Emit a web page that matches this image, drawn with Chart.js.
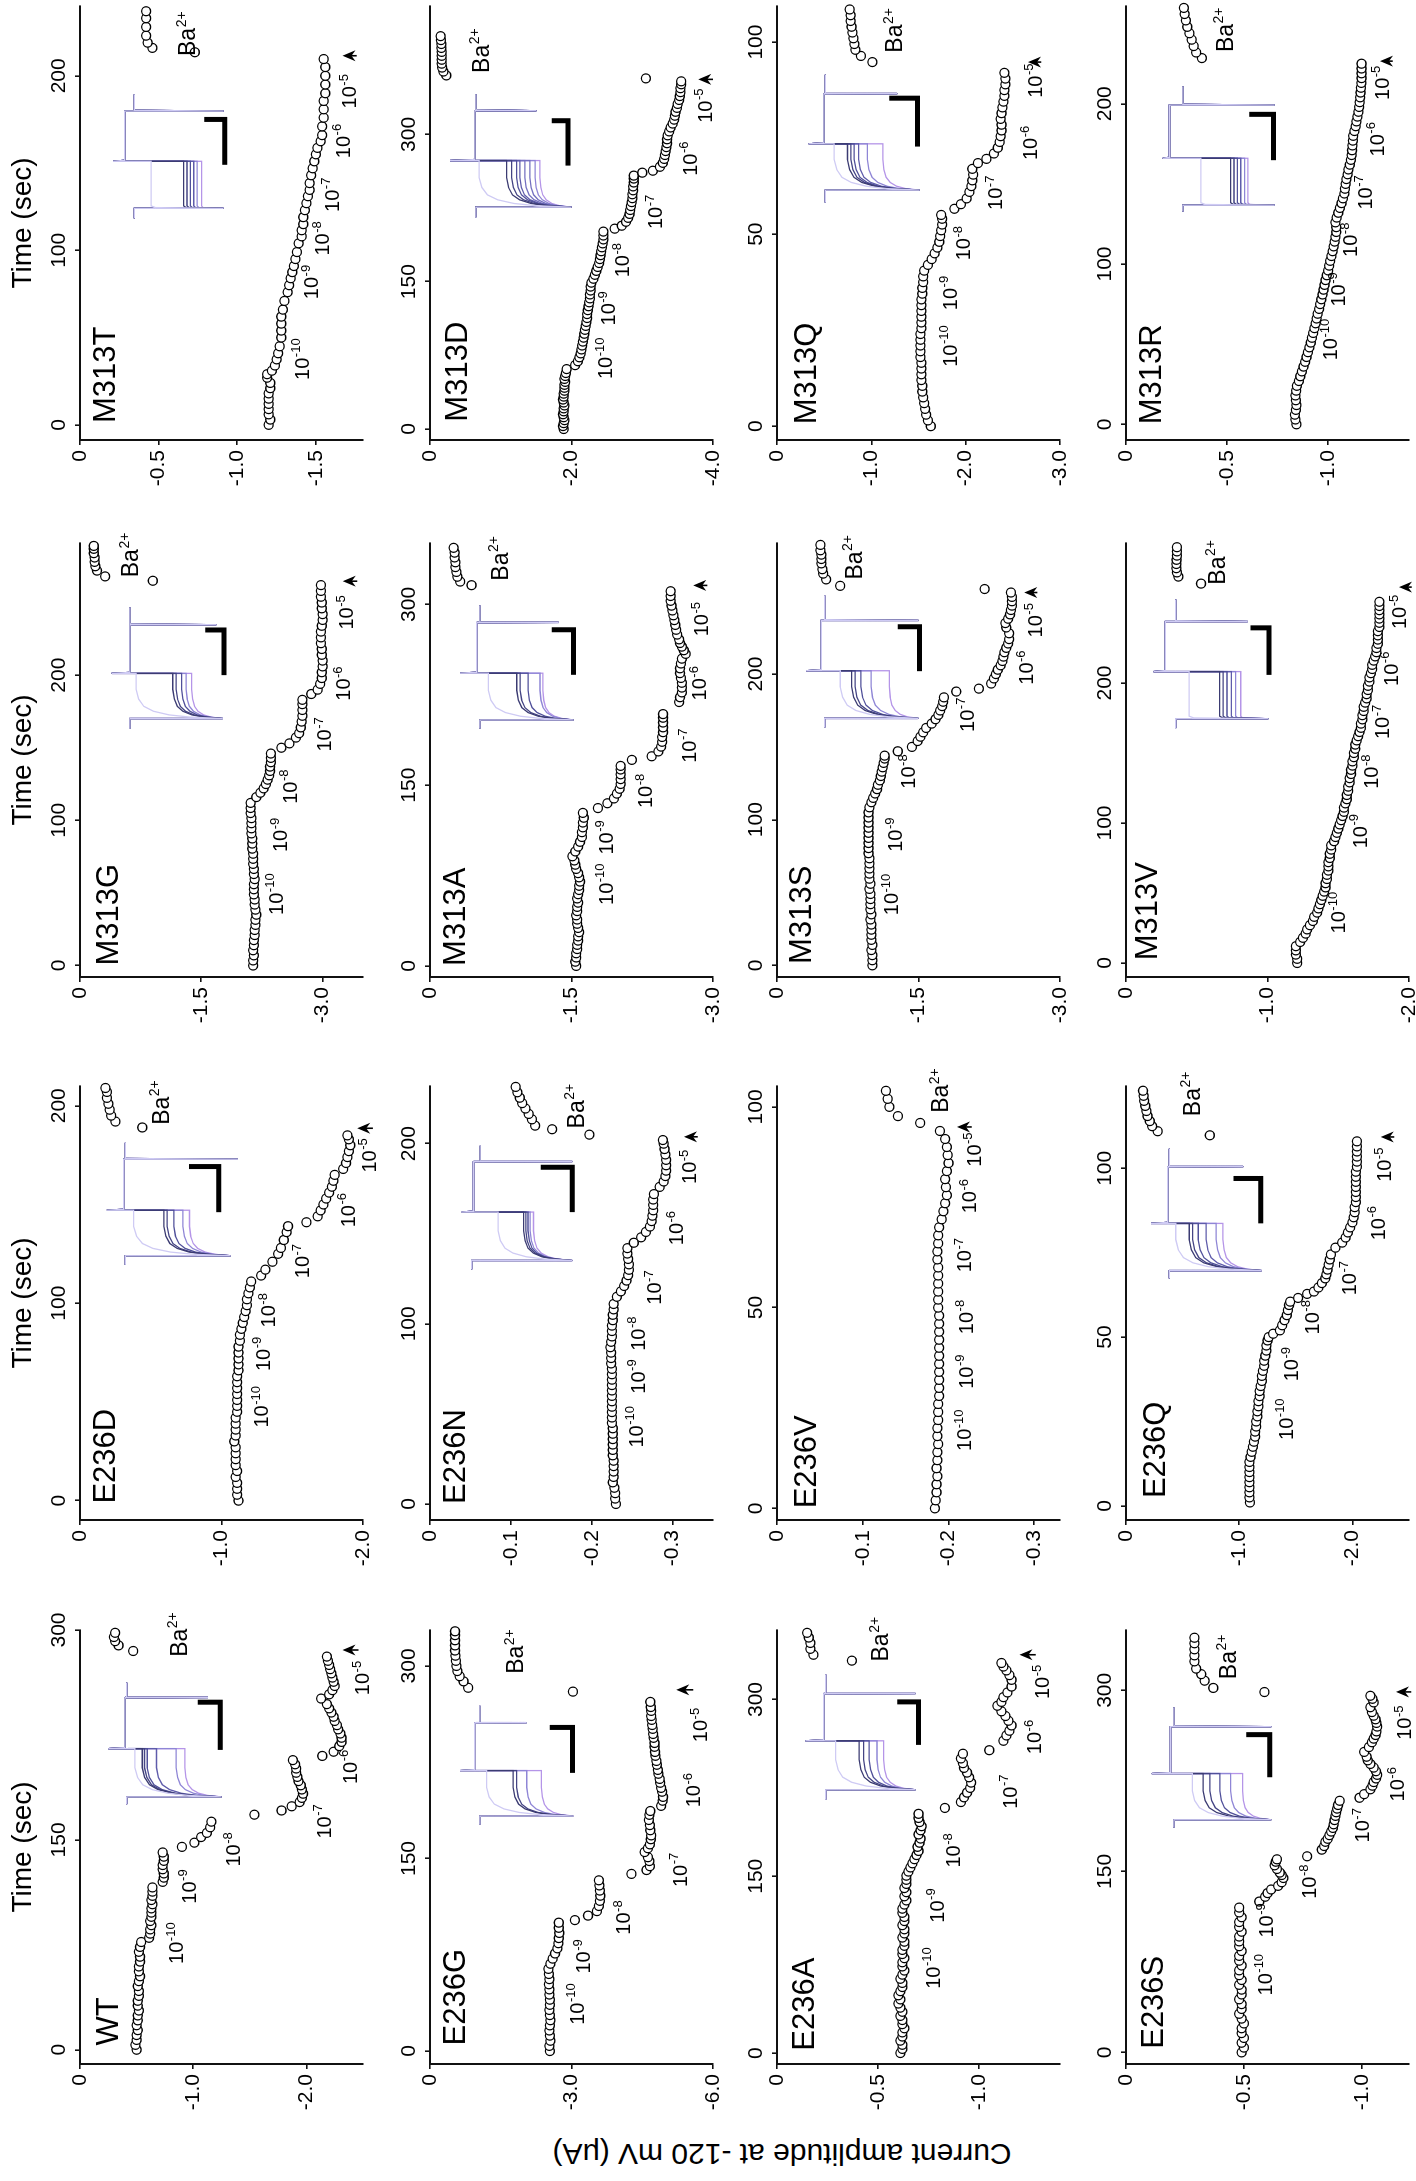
<!DOCTYPE html>
<html>
<head>
<meta charset="utf-8">
<script src="https://cdn.jsdelivr.net/npm/chart.js@4.4.1/dist/chart.umd.min.js"></script>
<style>
  html, body { margin:0; padding:0; background:#fff; width:1416px; height:2181px; overflow:hidden; }
  /* the figure is laid out upright (2181 x 1416) and turned a quarter turn to the left */
  #fig { position:absolute; left:0; top:0; width:2181px; height:1416px; background:#fff;
         transform-origin:0 0; transform:translate(0px, 2181px) rotate(-90deg); }
  #fig canvas { position:absolute; }
  #ylab { position:absolute; left:-270px; top:762px; width:600px; height:40px; line-height:40px;
          text-align:center; font:30px 'Liberation Sans', Arial, sans-serif; color:#000;
          transform:rotate(-90deg); white-space:nowrap; }
</style>
</head>
<body>
<div id="fig"><div id="ylab">Current amplitude at -120 mV (μA)</div></div>
<script>
// --- datos: [tiempo (s), corriente (uA)]
const WT_DATA = [[0,-0.50],[3.5,-0.49],[7,-0.50],[10.5,-0.50],[14,-0.51],[17.5,-0.50],[21,-0.51],[24.5,-0.51],[28,-0.52],[31.5,-0.51],[35,-0.51],[38.5,-0.52],[42,-0.52],[45.5,-0.51],[49,-0.52],[52.5,-0.53],[56,-0.52],[59.5,-0.52],[63,-0.53],[66.5,-0.53],[70,-0.52],[73.5,-0.53],[77,-0.54],
 [80,-0.61],[83,-0.62],[86,-0.62],[89,-0.63],[92,-0.62],[95,-0.63],[98,-0.63],[101,-0.63],[104,-0.64],[107,-0.63],[110,-0.64],[113,-0.64],[116,-0.64],
 [120,-0.73],[123,-0.74],[126,-0.74],[129,-0.73],[132,-0.73],[135,-0.74],[138,-0.74],[141,-0.73],
 [145,-0.90],[148,-1.01],[152,-1.07],[155,-1.12],[159,-1.15],[163,-1.16],[168,-1.54],
 [171,-1.78],[174,-1.87],[177,-1.94],[180,-1.96],[183,-1.97],[186,-1.96],[189,-1.95],[192,-1.93],[195,-1.92],[198,-1.91],[201,-1.91],[204,-1.90],[207,-1.88],
 [210,-2.14],[213,-2.24],[217,-2.29],[220,-2.31],[223,-2.31],[226,-2.30],[229,-2.28],[232,-2.27],[235,-2.25],[238,-2.24],[241,-2.22],[244,-2.20],[247,-2.18],[251,-2.13],
 [254,-2.20],[257,-2.23],[260,-2.25],[263,-2.24],[266,-2.23],[269,-2.22],[272,-2.21],[275,-2.20],[278,-2.19],[281,-2.18],
 [285,-0.47],[289,-0.34],[292,-0.31],[295,-0.30],[298,-0.31]];
const E236D_DATA = [[0,-1.12],[3,-1.11],[6,-1.11],[9,-1.11],[12,-1.10],[15,-1.11],[18,-1.10],[21,-1.10],[24,-1.10],[27,-1.10],[30,-1.09],[33,-1.10],[36,-1.10],[39,-1.10],[42,-1.10],[45,-1.11],[48,-1.11],[51,-1.11],[54,-1.11],[57,-1.11],[60,-1.11],[63,-1.11],[66,-1.12],[69,-1.12],[72,-1.12],[75,-1.12],[78,-1.12],[81,-1.13],[84,-1.13],[87,-1.14],[90,-1.15],[93,-1.16],[96,-1.17],[99,-1.18],[102,-1.18],[105,-1.19],[108,-1.20],[111,-1.21],
 [114,-1.28],[117,-1.31],[121,-1.36],[125,-1.40],[128,-1.42],[132,-1.44],[136,-1.46],[139,-1.47],
 [141,-1.60],[144,-1.68],[147,-1.70],[150,-1.72],[153,-1.74],[156,-1.76],[159,-1.78],[162,-1.79],[165,-1.80],
 [168,-1.86],[171,-1.88],[174,-1.89],[177,-1.90],[180,-1.91],[183,-1.90],[185,-1.89],
 [189,-0.44],[192,-0.25],[195,-0.22],[198,-0.21],[201,-0.20],[204,-0.19],[207,-0.19],[209,-0.18]];
const M313G_DATA = [[0,-2.14],[3.5,-2.14],[7,-2.15],[10.5,-2.14],[14,-2.15],[17.5,-2.15],[21,-2.16],[24.5,-2.16],[28,-2.17],[31.5,-2.17],[35,-2.18],[38.5,-2.17],[42,-2.16],[45.5,-2.16],[49,-2.15],[52.5,-2.15],[56,-2.15],[59.5,-2.16],[63,-2.15],[66.5,-2.15],[70,-2.14],[73.5,-2.14],[77,-2.14],[80.5,-2.13],[84,-2.13],[87.5,-2.13],[91,-2.12],[94.5,-2.12],[98,-2.12],[101.5,-2.12],[105,-2.11],[108.5,-2.11],[112,-2.11],
 [116,-2.18],[119,-2.23],[122,-2.27],[125,-2.30],[128,-2.32],[131,-2.34],[134,-2.35],[137,-2.35],[140,-2.36],[143,-2.36],[146,-2.36],
 [150,-2.49],[153,-2.59],[157,-2.67],[160,-2.71],[164,-2.73],[168,-2.74],[172,-2.75],[176,-2.75],[180,-2.75],[183,-2.75],
 [187,-2.86],[190,-2.94],[194,-2.97],[198,-2.99],[202,-2.99],[206,-3.00],[210,-3.00],[214,-2.99],[218,-2.99],[222,-2.98],[226,-2.98],[230,-2.98],[234,-2.99],[238,-3.00],[242,-3.00],[246,-2.99],[250,-2.99],[254,-2.98],[258,-2.98],[262,-2.98],
 [265,-0.90],[268,-0.31],[272,-0.21],[275,-0.19],[278,-0.18],[281,-0.18],[284,-0.17],[287,-0.17],[289,-0.17]];
const M313T_DATA = [[0,-1.20],[3,-1.21],[6,-1.20],[9,-1.20],[12,-1.20],[15,-1.20],[18,-1.20],[21,-1.21],[24,-1.21],[27,-1.19],[29,-1.19],[31,-1.22],[34,-1.24],[37.5,-1.25],[41,-1.26],[45,-1.27],[50,-1.28],[54,-1.28],[58,-1.28],[62,-1.28],[66,-1.29],[71,-1.30],[76,-1.32],[80,-1.33],[84,-1.34],[87.5,-1.35],[91,-1.36],[95,-1.37],[99,-1.38],[104,-1.39],[108,-1.41],[111.5,-1.41],[115,-1.42],[119,-1.42],[123,-1.43],[127,-1.44],[131,-1.45],[134.6,-1.46],[138.5,-1.46],[143,-1.47],[147,-1.48],[151,-1.49],[155,-1.50],[158.7,-1.51],[162.5,-1.53],[166,-1.54],[171,-1.54],[176,-1.55],[180.8,-1.55],[185.6,-1.55],[190,-1.56],[195,-1.56],[200,-1.56],[205,-1.56],[209.6,-1.55],
 [213.5,-0.73],[216,-0.46],[219,-0.43],[223,-0.42],[228,-0.42],[233,-0.42],[237,-0.42]];
const E236G_DATA = [[0,-2.54],[4,-2.53],[8,-2.55],[12,-2.54],[16,-2.53],[20,-2.54],[24,-2.55],[28,-2.54],[32,-2.53],[36,-2.54],[40,-2.54],[44,-2.53],[48,-2.53],[52,-2.52],[56,-2.53],[60,-2.52],[64,-2.51],[68,-2.55],[72,-2.60],[76,-2.65],[80,-2.70],[84,-2.72],[88,-2.73],[92,-2.74],[96,-2.73],[100,-2.73],
 [102,-3.07],[105.5,-3.35],[109,-3.54],[113,-3.58],[117,-3.60],[121,-3.61],[125,-3.60],[129,-3.59],[133,-3.58],
 [138,-4.27],
 [141,-4.59],[144,-4.66],[148,-4.65],[151,-4.62],[155,-4.55],[158,-4.62],[161,-4.66],[165,-4.68],[168,-4.69],[172,-4.67],[176,-4.66],[180,-4.64],[184,-4.65],[187,-4.67],
 [191,-4.90],[195,-4.93],[198,-4.94],[202,-4.92],[205,-4.90],[209,-4.88],[212,-4.87],[216,-4.84],[219,-4.83],[223,-4.81],[226,-4.80],[230,-4.78],[233,-4.77],[237,-4.76],[240,-4.76],[244,-4.74],[247,-4.73],[251,-4.72],[254,-4.71],[258,-4.70],[261,-4.69],[265,-4.69],[268,-4.68],[272,-4.67],
 [280,-3.03],[283,-0.81],[288,-0.71],[292,-0.63],[296,-0.58],[300,-0.56],[304,-0.55],[308,-0.54],[312,-0.53],[316,-0.53],[320,-0.53],[324,-0.53],[327,-0.53]];
const E236N_DATA = [[0,-0.230],[3,-0.229],[6,-0.229],[9,-0.228],[12,-0.226],[15,-0.227],[18,-0.227],[21,-0.227],[24,-0.227],[27,-0.226],[30,-0.226],[33,-0.226],[36,-0.226],[39,-0.226],[42,-0.226],[45,-0.225],[48,-0.225],[51,-0.225],[54,-0.225],[57,-0.225],[60,-0.225],[63,-0.225],[66,-0.225],[69,-0.225],[72,-0.225],[75,-0.225],[78,-0.224],[81,-0.224],[84,-0.224],[87,-0.223],[90,-0.224],[93,-0.225],[96,-0.225],[99,-0.225],[102,-0.226],[105,-0.226],[108,-0.227],[111,-0.227],
 [115,-0.231],[118,-0.236],[121,-0.240],[124,-0.243],[127,-0.245],[130,-0.246],[133,-0.246],[136,-0.245],[139,-0.244],[142,-0.244],
 [145,-0.252],[148,-0.261],[151,-0.267],[154,-0.272],[157,-0.274],[160,-0.275],[163,-0.276],[166,-0.276],[169,-0.276],[172,-0.277],
 [176,-0.284],[179,-0.289],[182,-0.291],[185,-0.292],[188,-0.292],[191,-0.292],[194,-0.291],[197,-0.290],[200,-0.289],[202,-0.288],
 [205,-0.197],[208,-0.151],[210,-0.130],[213.5,-0.126],[216.5,-0.122],[219.5,-0.118],[222.5,-0.114],[225.5,-0.111],[228.5,-0.108],[231.5,-0.106]];
const M313A_DATA = [[0,-1.55],[3.5,-1.54],[7,-1.55],[10.5,-1.55],[14,-1.56],[17.5,-1.56],[21,-1.57],[24.5,-1.57],[28,-1.58],[31.5,-1.57],[35,-1.56],[38.5,-1.56],[42,-1.55],[45.5,-1.56],[49,-1.56],[52.5,-1.57],[56,-1.56],[59.5,-1.57],[63,-1.58],[66.5,-1.58],[70,-1.59],[73.5,-1.58],[77,-1.57],[80.5,-1.55],[84,-1.54],[87.5,-1.53],[91,-1.51],
 [95,-1.54],[99,-1.57],[103,-1.59],[107,-1.61],[111,-1.61],[115,-1.62],[119,-1.62],[123,-1.63],[127,-1.62],
 [131,-1.78],[135,-1.88],[139,-1.95],[143,-1.98],[147,-2.01],[151,-2.02],[155,-2.02],[159,-2.02],[163,-2.02],[166,-2.02],
 [171,-2.14],[174,-2.35],[178,-2.42],[182,-2.45],[186,-2.46],[190,-2.46],[194,-2.47],[198,-2.47],[202,-2.47],[206,-2.47],[209,-2.47],
 [219,-2.64],[223,-2.65],[227,-2.67],[231,-2.67],[235,-2.67],[239,-2.66],[243,-2.65],[247,-2.65],[251,-2.66],[255,-2.67],[259,-2.71],[262,-2.69],[265,-2.67],[268,-2.65],[271,-2.64],[275,-2.62],[279,-2.61],[283,-2.60],[287,-2.59],[291,-2.58],[295,-2.57],[299,-2.56],[303,-2.55],[307,-2.55],[311,-2.55],
 [316,-0.44],[319,-0.32],[323,-0.29],[327,-0.28],[331,-0.27],[335,-0.27],[339,-0.26],[343,-0.26],[347,-0.25]];
const M313D_DATA = [[0,-1.89],[3,-1.88],[6,-1.89],[9,-1.90],[12,-1.89],[15,-1.88],[18,-1.89],[21,-1.89],[24,-1.90],[27,-1.89],[30,-1.88],[33,-1.89],[36,-1.89],[39,-1.90],[42,-1.90],[45,-1.90],[48,-1.91],[51,-1.90],[54,-1.91],[57,-1.92],[61,-1.93],
 [65,-2.05],[69,-2.09],[73,-2.11],[77,-2.13],[81,-2.14],[85,-2.15],[89,-2.16],[93,-2.17],[97,-2.18],[101,-2.19],[105,-2.20],[109,-2.21],[113,-2.22],[117,-2.22],[121,-2.23],[125,-2.24],[129,-2.25],[133,-2.26],[137,-2.26],[141,-2.27],[145,-2.27],[149,-2.28],[153,-2.31],[157,-2.33],[161,-2.35],[165,-2.37],[169,-2.39],[173,-2.40],[177,-2.41],[181,-2.42],[185,-2.43],[189,-2.44],[193,-2.45],[197,-2.45],[201,-2.45],
 [204,-2.61],[207,-2.71],[211,-2.77],[215,-2.80],[219,-2.82],[223,-2.83],[227,-2.84],[231,-2.85],[235,-2.86],[239,-2.86],[243,-2.87],[247,-2.87],[251,-2.88],[255,-2.88],[258,-2.88],
 [261,-3.00],[263,-3.15],[267,-3.25],[271,-3.29],[275,-3.31],[279,-3.32],[283,-3.33],[287,-3.34],[291,-3.35],[295,-3.35],[299,-3.36],[303,-3.38],[307,-3.40],[311,-3.43],[315,-3.45],[319,-3.46],[323,-3.47],[327,-3.49],[331,-3.50],[335,-3.52],[339,-3.53],[343,-3.54],[347,-3.54],[351,-3.55],[354,-3.55],
 [357,-3.05],
 [360,-0.23],[364,-0.19],[368,-0.17],[372,-0.165],[376,-0.165],[380,-0.165],[384,-0.165],[388,-0.16],[392,-0.16],[396,-0.155],[400,-0.15]];
const E236A_DATA = [[0,-0.61],[3.5,-0.62],[7,-0.62],[10.5,-0.61],[14,-0.62],[17.5,-0.62],[21,-0.63],[24.5,-0.62],[28,-0.62],[31.5,-0.61],[35,-0.62],[38.5,-0.61],[42,-0.60],[45.5,-0.61],[49,-0.60],[52.5,-0.61],[56,-0.62],[59.5,-0.62],[63,-0.61],[66.5,-0.62],[70,-0.63],[73.5,-0.62],[77,-0.62],[80.5,-0.63],[84,-0.62],[87.5,-0.62],[91,-0.63],[94.5,-0.63],[98,-0.62],[101.5,-0.63],[105,-0.63],[108.5,-0.62],[112,-0.63],[115.5,-0.63],[119,-0.62],[122.5,-0.62],[126,-0.63],[129.5,-0.64],[133,-0.63],[136.5,-0.64],[140,-0.63],[143.5,-0.64],[147,-0.64],[150.5,-0.64],
 [154,-0.65],[157.5,-0.66],[161,-0.67],[164.5,-0.68],[168,-0.69],[171.5,-0.70],[175,-0.695],[178.5,-0.705],[182,-0.71],[185.5,-0.70],[189,-0.71],[192.5,-0.715],[196,-0.705],[199.5,-0.70],[203,-0.70],
 [208,-0.83],
 [213,-0.91],[217,-0.925],[221,-0.94],[225,-0.955],[229.5,-0.96],[234,-0.95],[238,-0.94],[242,-0.925],[246,-0.92],[250,-0.91],[254,-0.92],
 [257,-1.05],
 [265,-1.12],[269.5,-1.135],[273.5,-1.15],[278,-1.16],[282,-1.145],[286,-1.13],[290,-1.11],
 [294.7,-1.09],[298,-1.11],[302,-1.12],[306,-1.14],[311,-1.16],[316.7,-1.16],[320.7,-1.15],[324.7,-1.135],[328,-1.12],[331,-1.11],
 [333,-0.37],[338,-0.18],[343,-0.165],[348,-0.165],[352.6,-0.157],[356.6,-0.149]];
const E236V_DATA = [[0,-0.184],[2,-0.185],[4,-0.186],[6,-0.186],[8,-0.187],[10,-0.186],[12,-0.187],[14,-0.187],[16,-0.188],[18,-0.187],[20,-0.187],[22,-0.188],[24,-0.188],[26,-0.188],[28,-0.189],[30,-0.189],[32,-0.189],[34,-0.189],[36,-0.189],[38,-0.189],[40,-0.189],[42,-0.189],[44,-0.189],[46,-0.189],[48,-0.189],[50,-0.188],[52,-0.188],[54,-0.188],[56,-0.188],[58,-0.188],[60,-0.188],[62,-0.187],[64,-0.187],[66,-0.188],[68,-0.188],[70,-0.189],[72,-0.192],[74,-0.194],[76,-0.196],[78,-0.198],[80,-0.197],[82,-0.196],[84,-0.198],[86,-0.200],[88,-0.199],[90,-0.198],[92,-0.196],[94,-0.190],
 [96,-0.167],[97.7,-0.141],[100,-0.131],[102,-0.129],[104,-0.127]];
const M313S_DATA = [[0,-1.01],[3.5,-1.01],[7,-1.01],[10.5,-1.00],[14,-1.01],[17.5,-1.00],[21,-1.00],[24.5,-1.00],[28,-1.00],[31.5,-0.99],[35,-1.00],[38.5,-0.99],[42,-0.99],[45.5,-0.99],[49,-0.99],[52.5,-0.98],[56,-0.99],[59.5,-0.98],[63,-0.98],[66.5,-0.98],[70,-0.98],[73.5,-0.98],[77,-0.97],[80.5,-0.97],[84,-0.97],[87.5,-0.97],[91,-0.97],[94.5,-0.97],[98,-0.97],[101.5,-0.97],[105,-0.97],[108.5,-0.98],
 [112,-1.00],[115,-1.02],[118,-1.04],[121,-1.06],[124,-1.07],[127,-1.09],[130,-1.10],[133,-1.11],[136,-1.12],[139,-1.13],[142,-1.14],[144,-1.14],
 [147,-1.28],[150,-1.43],[154,-1.49],[157,-1.52],[160,-1.55],[163,-1.58],[166,-1.64],[169,-1.68],[172,-1.71],[175,-1.73],[178,-1.75],[181,-1.76],[184,-1.77],
 [188,-1.90],[190,-2.14],
 [193.5,-2.27],[197,-2.30],[200,-2.32],[203,-2.34],[206,-2.37],[209,-2.39],[212,-2.40],[215,-2.41],[218,-2.43],[221,-2.45],[224,-2.46],[228,-2.46],
 [232,-2.43],[235,-2.42],[238,-2.45],[241,-2.47],[244,-2.48],[247,-2.49],[250,-2.49],[253,-2.49],[256,-2.48],
 [258.4,-2.20],
 [260.6,-0.67],[265,-0.52],[269,-0.49],[272,-0.48],[276,-0.47],[279,-0.47],[282,-0.47],[285,-0.46],[288.7,-0.46]];
const M313Q_DATA = [[0,-1.63],[1.5,-1.60],[3,-1.58],[4.5,-1.57],[6,-1.56],[7.5,-1.55],[9,-1.54],[10.5,-1.54],[12,-1.53],[13.5,-1.53],[15,-1.53],[16.5,-1.53],[18,-1.52],[19.5,-1.52],[21,-1.52],[22.5,-1.52],[24,-1.52],[25.5,-1.53],[27,-1.53],[28.5,-1.53],[30,-1.53],[31.5,-1.53],[33,-1.53],[34.5,-1.54],[36,-1.54],[37.5,-1.55],[39,-1.55],[40.5,-1.56],
 [42,-1.60],[43.5,-1.64],[45,-1.67],[46.5,-1.70],[48,-1.72],[49.5,-1.73],[51,-1.74],[52.5,-1.75],[54,-1.75],[55,-1.74],
 [56.6,-1.88],[57.8,-1.95],[59.3,-2.01],[61,-2.04],[62.5,-2.06],[64,-2.07],[65.5,-2.08],[67,-2.07],
 [68.5,-2.13],[69.6,-2.22],[71,-2.30],[72.5,-2.34],[74,-2.36],[75.5,-2.37],[77,-2.38],[78.5,-2.38],[80,-2.37],[81.5,-2.38],[83,-2.39],[84.5,-2.40],[86,-2.41],[87.5,-2.41],[89,-2.42],[90.5,-2.42],[92,-2.41],
 [94.8,-1.01],[96.4,-0.89],[98,-0.83],[99.5,-0.82],[101,-0.81],[102.5,-0.80],[104,-0.79],[105.5,-0.78],[107,-0.78],[108.5,-0.77]];
const E236S_DATA = [[0,-0.49],[4,-0.50],[8,-0.49],[12,-0.50],[16,-0.49],[20,-0.49],[24,-0.50],[28,-0.49],[32,-0.48],[36,-0.49],[40,-0.49],[44,-0.48],[48,-0.49],[52,-0.49],[56,-0.48],[60,-0.49],[64,-0.48],[68,-0.48],[72,-0.49],[76,-0.48],[80,-0.48],[84,-0.49],[88,-0.48],[92,-0.48],[96,-0.48],[100,-0.49],[104,-0.48],[108,-0.48],[112,-0.49],[116,-0.48],[120,-0.48],
 [125,-0.565],[129,-0.59],[132,-0.60],[135,-0.615],[138,-0.645],[141,-0.66],[144.5,-0.667],[147,-0.66],[149,-0.652],[152,-0.64],[155,-0.63],[158,-0.635],[160,-0.64],
 [162.5,-0.768],
 [168,-0.83],[171,-0.84],[174.5,-0.845],[177,-0.855],[180,-0.862],[183,-0.87],[186,-0.877],[189,-0.88],[192.5,-0.884],[196,-0.888],[199,-0.891],[202,-0.895],[205,-0.899],[208.5,-0.906],
 [211,-0.99],[214,-1.01],[218,-1.036],[221,-1.045],[224,-1.05],[227,-1.06],[230,-1.065],[233,-1.06],[236,-1.05],[239,-1.036],[242,-1.025],[245,-1.02],[249,-1.01],
 [253,-1.03],[257,-1.043],[260,-1.05],[263,-1.058],[266,-1.062],[270,-1.065],[273,-1.062],[276,-1.058],[279,-1.05],[282,-1.043],[286,-1.036],[290,-1.05],[293,-1.045],[295.5,-1.036],
 [298.6,-0.587],[302,-0.37],[308,-0.333],[313.4,-0.319],[318,-0.297],[324,-0.29],[329,-0.29],[334,-0.29],[339,-0.29],[343.6,-0.29]];
const E236Q_DATA = [[1,-1.095],[2.5,-1.09],[4,-1.09],[5.5,-1.09],[7,-1.09],[8.5,-1.09],[10,-1.09],[11.5,-1.09],[13,-1.09],[14.5,-1.10],[16,-1.11],[17.5,-1.12],[19,-1.13],[20.5,-1.14],[22,-1.14],[23.5,-1.15],[25,-1.15],[26.5,-1.16],[28,-1.16],[29.5,-1.17],[31,-1.17],[32.5,-1.18],[34,-1.18],[35.5,-1.19],[37,-1.20],[38.5,-1.20],[40,-1.21],[41.5,-1.22],[43,-1.22],[44.5,-1.23],[46,-1.24],[47.5,-1.24],[49,-1.25],[50,-1.26],
 [51,-1.30],[52,-1.36],[53.5,-1.38],[55,-1.40],[56.5,-1.42],[58,-1.43],[59.5,-1.44],[60.5,-1.45],
 [61.6,-1.52],[62.8,-1.60],[63.5,-1.66],[64.7,-1.70],[66,-1.73],[67.4,-1.76],[68.6,-1.77],[70,-1.78],[71.5,-1.79],[73,-1.80],[74.5,-1.81],
 [76.5,-1.85],[78,-1.91],[79.5,-1.94],[81,-1.96],[82.5,-1.98],[84,-2.00],[85.5,-2.01],[87,-2.02],[88.5,-2.02],[90,-2.03],[91.5,-2.03],[93,-2.03],[94.5,-2.03],[96,-2.03],[97.5,-2.03],[99,-2.03],[100.5,-2.04],[102,-2.04],[103.5,-2.04],[105,-2.04],[106.5,-2.04],[108,-2.04],
 [109.8,-0.74],[111,-0.28],[112.5,-0.23],[114,-0.21],[115.5,-0.19],[117,-0.18],[118.5,-0.17],[120,-0.16],[121.5,-0.155],[123,-0.15]];
const M313V_DATA = [[0,-1.21],[3,-1.21],[6,-1.20],[9,-1.20],[12,-1.20],[15,-1.23],[18,-1.25],[21,-1.27],[24,-1.28],[27,-1.30],[30,-1.32],[33,-1.33],[36,-1.35],[39,-1.36],[42,-1.37],[45,-1.38],[48,-1.39],[51,-1.40],[54,-1.41],[57,-1.41],[60,-1.42],[63,-1.42],[66,-1.43],[69,-1.43],[72,-1.43],[75,-1.44],[78,-1.44],[81,-1.45],[84,-1.45],[87,-1.47],[90,-1.48],[93,-1.49],[96,-1.50],[99,-1.51],[102,-1.52],[105,-1.53],[108,-1.54],[111,-1.54],[114,-1.55],[117,-1.56],[120,-1.56],[123,-1.57],[126,-1.57],[129,-1.58],[132,-1.58],[135,-1.59],[138,-1.59],[141,-1.60],[144,-1.60],[147,-1.61],[150,-1.61],[153,-1.62],[156,-1.62],[159,-1.63],[162,-1.64],[165,-1.65],[168,-1.66],[171,-1.66],[174,-1.67],[177,-1.67],[180,-1.68],[183,-1.68],[186,-1.69],[189,-1.70],[192,-1.70],[195,-1.71],[198,-1.71],[201,-1.72],[204,-1.72],[207,-1.73],[210,-1.74],[213,-1.74],[216,-1.75],[219,-1.76],[222,-1.77],[225,-1.77],[228,-1.78],[231,-1.78],[234,-1.78],[237,-1.78],[240,-1.79],[243,-1.79],[246,-1.79],[249,-1.79],[252,-1.79],[255,-1.79],[258,-1.79],
 [271,-0.53],[276,-0.37],[279,-0.36],[282,-0.356],[285,-0.356],[288,-0.357],[291,-0.36],[294,-0.36],[297,-0.36]];
const M313R_DATA = [[0,-0.843],[3,-0.838],[6,-0.835],[9,-0.84],[12,-0.843],[15,-0.84],[18,-0.838],[21,-0.842],[24,-0.845],[27,-0.855],[30,-0.862],[33,-0.87],[36,-0.878],[39,-0.886],[42,-0.893],[45,-0.90],[48,-0.907],[51,-0.914],[54,-0.92],[57,-0.926],[60,-0.932],[63,-0.938],[66,-0.943],[69,-0.948],[72,-0.955],[75,-0.96],[78,-0.966],[81,-0.972],[84,-0.977],[87,-0.982],[90,-0.987],[93,-0.993],[96,-1.0],[99,-1.005],[102,-1.01],[105,-1.016],[108,-1.022],[111,-1.027],[114,-1.032],[117,-1.036],[120,-1.04],[123,-1.04],[126,-1.036],[129,-1.042],[132,-1.05],[135,-1.058],[138,-1.066],[141,-1.073],[144,-1.08],[147,-1.083],[150,-1.086],[153,-1.09],[156,-1.096],[159,-1.10],[162,-1.107],[165,-1.112],[168,-1.116],[171,-1.118],[174,-1.12],[177,-1.122],[180,-1.124],[183,-1.13],[186,-1.136],[189,-1.14],[192,-1.145],[195,-1.15],[198,-1.153],[201,-1.156],[204,-1.158],[207,-1.16],[210,-1.162],[213,-1.164],[216,-1.165],[219,-1.165],[222,-1.165],[225,-1.165],
 [228.5,-0.375],[232,-0.347],[236,-0.335],[240,-0.325],[244,-0.314],[248,-0.303],[252,-0.296],[256,-0.29],[259.8,-0.286]];

// niveles de las trazas del recuadro (0 = arriba del recuadro, 100 = abajo)
const WT_TRACES = [23.5, 30, 32, 34.4, 42.6, 60, 67.6];
const E236D_TRACES = [20.4, 43.4, 46, 51, 58, 63];
const M313G_TRACES = [22, 55, 58, 63, 67, 72];
const M313T_TRACES = [34, 63, 66, 69, 72, 75, 79];
const E236G_TRACES = [23.5, 47, 50, 59, 72];
const E236N_TRACES = [33, 56, 58, 60, 62, 65];
const M313A_TRACES = [25, 50, 53, 60, 70.5, 73];
const M313D_TRACES = [24, 46.6, 50.7, 54.8, 57.5, 61.6, 65.8, 70, 74];
const E236A_TRACES = [27, 48, 52, 57, 64, 70];
const M313S_TRACES = [30, 40, 43, 48, 57, 73];
const M313Q_TRACES = [23, 35, 38, 41, 45, 53, 67];
const E236S_TRACES = [34, 43, 48.6, 57, 66, 76];
const E236Q_TRACES = [22, 34, 37, 42, 49, 58, 64];
const M313V_TRACES = [31, 57.6, 60.6, 64, 67.8, 71.6, 76];
const M313R_TRACES = [34, 60.6, 63.6, 66.6, 69.6, 73, 76];

const DECAY_CURVE = [[0,1],[1.2,0.62],[3,0.38],[6,0.2],[10,0.09],[16,0.03],[24,0]];
const SQUARE_CURVE = [[0,1],[0.6,0.06],[2,0]];

const FONT = "'Liberation Sans', Arial, Helvetica, sans-serif";
const COL_X = [117, 661, 1204, 1741];   // borde izquierdo de cada area de grafica
const ROW_Y = [80, 430, 777, 1126];     // eje de tiempo de cada fila
const AREA_W = 434, AREA_H = 283;
const PAD_L = 62, PAD_T = 76, PAD_R = 44, PAD_B = 34;

const PANELS = [
  {name:'WT', row:0, col:0, t:[-10.2,300], tTicks:[0,150,300], c:[-2.5,0], cTicks:[0,-1,-2], data:WT_DATA,
   conc:[[-10,76,-0.85],[-9,116.5,-0.96],[-8,143,-1.35],[-7,163,-2.15],[-6,202,-2.38],[-5,265.5,-2.49]],
   ba:[296.6,-0.87], arrow:[285.7,-2.32,-2.46], title:[3,-0.26],
   inset:{box:[175.5,262.4,-0.25,-1.25], onset:6, base:16.2, peak:100, end:45.7, inter:14.7, s2:[87.5,88], post:16.2, levels:WT_TRACES},
   bar:[214.3,248.4,-1.24,-1.04]},
  {name:'E236D', row:0, col:1, t:[-9.8,210], tTicks:[0,100,200], c:[-2.0,0], cTicks:[0,-1,-2], data:E236D_DATA,
   conc:[[-10,47.4,-1.28],[-9,74.2,-1.29],[-8,96.3,-1.33],[-7,121.2,-1.57],[-6,147,-1.89],[-5,174.7,-2.04]],
   ba:[201.5,-0.57], arrow:[188.6,-1.96,-2.07], title:[-1.5,-0.19],
   inset:{box:[119.4,181.2,-0.19,-1.117], onset:7.5, base:14, peak:94.4, end:44.8, inter:12.8, s2:[86.6,100], post:14, levels:E236D_TRACES},
   bar:[146.1,169.2,-0.98,-0.77]},
  {name:'M313G', row:0, col:2, t:[-7.9,291], tTicks:[0,100,200], c:[-3.5,0], cTicks:[0,-1.5,-3], data:M313G_DATA,
   conc:[[-10,49,-2.42],[-9,89.8,-2.47],[-8,123,-2.59],[-7,159,-3.02],[-6,194,-3.25],[-5,243,-3.29]],
   ba:[282.6,-0.62], arrow:[264.7,-3.25,-3.43], title:[0,-0.37],
   inset:{box:[162.9,246.7,-0.39,-1.767], onset:8.6, base:16.4, peak:100, end:45.7, inter:16.4, s2:[85.7,94], post:16.4, levels:M313G_TRACES},
   bar:[200,231.1,-1.78,-1.55]},
  {name:'M313T', row:0, col:3, t:[-8.7,240], tTicks:[0,100,200], c:[-1.8,0], cTicks:[0,-0.5,-1,-1.5], data:M313T_DATA,
   conc:[[-10,37.5,-1.41],[-9,81.7,-1.47],[-8,106.7,-1.54],[-7,131.7,-1.60],[-6,162.5,-1.67],[-5,191,-1.71]],
   ba:[224,-0.68], arrow:[211.5,-1.67,-1.76], title:[1,-0.17],
   inset:{box:[118.3,189.4,-0.21,-0.923], onset:8.1, base:19, peak:98.5, end:46, inter:10.3, s2:[86.5,98.5], post:19, levels:M313T_TRACES, square:true},
   bar:[149,175,-0.92,-0.79]},

  {name:'E236G', row:1, col:0, t:[-10.1,328], tTicks:[0,150,300], c:[-6,0], cTicks:[0,-3,-6], data:E236G_DATA,
   conc:[[-10,36.4,-3.11],[-9,73.5,-3.25],[-8,103.8,-4.09],[-7,140.9,-5.29],[-6,203,-5.58],[-5,253.8,-5.72]],
   ba:[311,-1.80], arrow:[281.4,-5.22,-5.58], title:[4.4,-0.56],
   inset:{box:[176.3,269,-0.635,-3.035], onset:7.3, base:17.6, peak:100, end:45.5, inter:13, s2:[85.5,59], post:17.6, levels:E236G_TRACES},
   bar:[216.7,252.1,-3.02,-2.54]},
  {name:'E236N', row:1, col:1, t:[-8.9,232], tTicks:[0,100,200], c:[-0.35,0], cTicks:[0,-0.1,-0.2,-0.3], data:E236N_DATA,
   conc:[[-10,42.7,-0.254],[-9,70.6,-0.2565],[-8,94.4,-0.2565],[-7,120,-0.277],[-6,153,-0.304],[-5,187,-0.3206]],
   ba:[220.7,-0.18], arrow:[203.8,-0.314,-0.331], title:[0,-0.033],
   inset:{box:[130.2,198.8,-0.0393,-0.1758], onset:7.2, base:9, peak:100, end:46.4, inter:10.6, s2:[87,100], post:16.7, levels:E236N_TRACES},
   bar:[162,186.9,-0.176,-0.137]},
  {name:'M313A', row:1, col:2, t:[-9.2,351], tTicks:[0,150,300], c:[-3,0], cTicks:[0,-1.5,-3], data:M313A_DATA,
   conc:[[-10,67.6,-1.86],[-9,106.4,-1.86],[-8,145,-2.28],[-7,182.6,-2.74],[-6,234.4,-2.85],[-5,287.6,-2.87]],
   ba:[338,-0.74], arrow:[315.8,-2.79,-2.94], title:[0,-0.28],
   inset:{box:[197,299.1,-0.318,-1.521], onset:7, base:17.6, peak:100, end:45, inter:14.7, s2:[86,87], post:17.6, levels:M313A_TRACES},
   bar:[241.6,279,-1.52,-1.29]},
  {name:'M313D', row:1, col:3, t:[-11.2,430.7], tTicks:[0,150,300], c:[-4,0], cTicks:[0,-2,-4], data:M313D_DATA,
   conc:[[-10,71.8,-2.47],[-9,122.6,-2.52],[-8,171.7,-2.71],[-7,220.8,-3.18],[-6,275,-3.67],[-5,329,-3.88]],
   ba:[385,-0.71], arrow:[356,-3.79,-4.0], title:[7.5,-0.40],
   inset:{box:[215.7,341,-0.282,-2.0], onset:8.1, base:21.4, peak:100, end:46, inter:20.5, s2:[86.5,71], post:21.4, levels:M313D_TRACES},
   bar:[268.2,313.9,-1.95,-1.72]},

  {name:'E236A', row:2, col:0, t:[-9.3,359], tTicks:[0,150,300], c:[-1.4,0], cTicks:[0,-0.5,-1], data:E236A_DATA,
   conc:[[-10,71.9,-0.77],[-9,125,-0.79],[-8,171.7,-0.87],[-7,221.6,-1.15],[-6,268,-1.27],[-5,314.7,-1.31]],
   ba:[351,-0.51], arrow:[338,-1.20,-1.28], title:[2,-0.14],
   inset:{box:[214.9,321.4,-0.1405,-0.694], onset:8, base:18, peak:98.5, end:47, inter:16.4, s2:[84.4,98.5], post:18, levels:E236A_TRACES},
   bar:[261.5,298,-0.70,-0.595]},
  {name:'E236V', row:2, col:1, t:[-2.9,105.2], tTicks:[0,50,100], c:[-0.33,0], cTicks:[0,-0.1,-0.2,-0.3], data:E236V_DATA,
   conc:[[-10,19.4,-0.218],[-9,34,-0.22],[-8,47.6,-0.22],[-7,63,-0.218],[-6,77.7,-0.224],[-5,89.3,-0.229]],
   ba:[104,-0.19], arrow:[95,-0.21,-0.227], title:[0,-0.035], inset:null, bar:null},
  {name:'M313S', row:2, col:2, t:[-8,290], tTicks:[0,100,200], c:[-3,0], cTicks:[0,-1.5,-3], data:M313S_DATA,
   conc:[[-10,48.5,-1.21],[-9,89.6,-1.25],[-8,132.9,-1.39],[-7,171.9,-2.01],[-6,204.3,-2.64],[-5,236.8,-2.73]],
   ba:[280,-0.81], arrow:[256,-2.62,-2.76], title:[1,-0.27],
   inset:{box:[163.2,254.1,-0.307,-1.518], onset:7, base:16.4, peak:98.5, end:43, inter:13.4, s2:[81,98.5], post:16.4, levels:M313S_TRACES},
   bar:[202,232.5,-1.51,-1.28]},
  {name:'M313Q', row:2, col:3, t:[-3.6,109.4], tTicks:[0,50,100], c:[-3,0], cTicks:[0,-1,-2,-3], data:M313Q_DATA,
   conc:[[-10,20.8,-1.83],[-9,34.6,-1.83],[-8,47.6,-1.97],[-7,60.7,-2.31],[-6,73.7,-2.68],[-5,89.9,-2.73]],
   ba:[103,-1.24], arrow:[94.8,-2.66,-2.80], title:[0.5,-0.32],
   inset:{box:[58.2,91.5,-0.337,-1.509], onset:9.8, base:15, peak:100, end:46, inter:13.6, s2:[85,80], post:15, levels:M313Q_TRACES},
   bar:[72.8,85.4,-1.49,-1.19]},

  {name:'E236S', row:3, col:0, t:[-9.6,350], tTicks:[0,150,300], c:[-1.2,0], cTicks:[0,-0.5,-1], data:E236S_DATA,
   conc:[[-10,64.2,-0.587],[-9,109.2,-0.594],[-8,141.3,-0.775],[-7,188,-1.0],[-6,222,-1.15],[-5,273,-1.18]],
   ba:[327.5,-0.43], arrow:[298.7,-1.145,-1.21], title:[3,-0.12],
   inset:{box:[186.3,285.8,-0.109,-0.616], onset:6.5, base:18.6, peak:100, end:45, inter:15.7, s2:[84,100], post:18.6, levels:E236S_TRACES},
   bar:[228,263.3,-0.61,-0.51]},
  {name:'E236Q', row:3, col:1, t:[-4.2,124.4], tTicks:[0,50,100], c:[-2.5,0], cTicks:[0,-1,-2], data:E236Q_DATA,
   conc:[[-10,25.6,-1.41],[-9,41.9,-1.46],[-8,55.8,-1.64],[-7,67.4,-1.97],[-6,83.7,-2.22],[-5,101,-2.28]],
   ba:[122,-0.58], arrow:[109.3,-2.25,-2.37], title:[2.3,-0.27],
   inset:{box:[67.4,105.8,-0.221,-1.214], onset:6, base:16.4, peak:98.5, end:42.4, inter:14.9, s2:[86,82], post:16.4, levels:E236Q_TRACES},
   bar:[83.7,97,-1.19,-0.95]},
  {name:'M313V', row:3, col:2, t:[-10,300], tTicks:[0,100,200], c:[-2,0], cTicks:[0,-1,-2], data:M313V_DATA,
   conc:[[-10,35.8,-1.50],[-9,94,-1.65],[-8,136.5,-1.73],[-7,172,-1.81],[-6,210,-1.87],[-5,250.6,-1.93]],
   ba:[286,-0.64], arrow:[268.5,-1.93,-2.02], title:[2,-0.16],
   inset:{box:[167.8,259.5,-0.194,-1.006], onset:7.3, base:19.4, peak:100, end:44, inter:10.4, s2:[83,82], post:19.4, levels:M313V_TRACES, square:true},
   bar:[205.8,239.4,-1.01,-0.88]},
  {name:'M313R', row:3, col:3, t:[-9.8,261], tTicks:[0,100,200], c:[-1.4,0], cTicks:[0,-0.5,-1], data:M313R_DATA,
   conc:[[-10,52.7,-1.008],[-9,84,-1.05],[-8,115,-1.107],[-7,144.5,-1.18],[-6,177.7,-1.24],[-5,212.9,-1.264]],
   ba:[246,-0.488], arrow:[226.6,-1.256,-1.32], title:[0,-0.13],
   inset:{box:[132.8,210.9,-0.182,-0.736], onset:5, base:18, peak:100, end:42.5, inter:6, s2:[85,100], post:18, levels:M313R_TRACES, square:true},
   bar:[164.8,193.4,-0.73,-0.61]}
];

// colores de las trazas: la mas cercana a la linea base es la mas clara
const TRACE_COLORS = ['#cfcbf4', '#3b3b72', '#444484', '#50509a', '#5f5cab', '#7470c0', '#8f86d6', '#b595e8'];
function traceColor(i, n) {
  if (i === 0) return TRACE_COLORS[0];
  if (i === n - 1) return TRACE_COLORS[7];
  if (i === n - 2 && n > 3) return TRACE_COLORS[6];
  return TRACE_COLORS[Math.min(i, 5)];
}

// texto con superindice (10^-x, Ba^2+)
function supText(ctx, base, sup, cx, cy, bs, ss) {
  ctx.font = `${bs}px ${FONT}`;
  const wb = ctx.measureText(base).width;
  ctx.font = `${ss}px ${FONT}`;
  const ws = ctx.measureText(sup).width;
  const x0 = cx - (wb + ws) / 2;
  const baseY = cy + bs * 0.36;
  ctx.textAlign = 'left'; ctx.textBaseline = 'alphabetic';
  ctx.font = `${bs}px ${FONT}`; ctx.fillText(base, x0, baseY);
  ctx.font = `${ss}px ${FONT}`; ctx.fillText(sup, x0 + wb + 0.5, baseY - bs * 0.42);
}

const annotate = {
  id: 'annotate',
  afterDatasetsDraw(chart, args, opts) {
    const p = opts.panel;
    const ctx = chart.ctx, xs = chart.scales.x, ys = chart.scales.y;
    const X = t => xs.getPixelForValue(t), Y = c => ys.getPixelForValue(c);
    ctx.save();
    ctx.fillStyle = '#000'; ctx.strokeStyle = '#000';
    ctx.font = `31px ${FONT}`; ctx.textAlign = 'left'; ctx.textBaseline = 'middle';
    ctx.fillText(p.name, X(p.title[0]), Y(p.title[1]));
    p.conc.forEach(([e, t, c]) => supText(ctx, '10', String(e), X(t), Y(c), 20, 13));
    supText(ctx, 'Ba', '2+', X(p.ba[0]), Y(p.ba[1]), 23, 14);
    // flecha (apunta hacia 0)
    const ax = X(p.arrow[0]), y1 = Y(p.arrow[1]), y2 = Y(p.arrow[2]);
    ctx.lineWidth = 1.6;
    ctx.beginPath(); ctx.moveTo(ax, y2); ctx.lineTo(ax, y1 + 6); ctx.stroke();
    ctx.beginPath(); ctx.moveTo(ax, y1); ctx.lineTo(ax - 5.5, y1 + 13); ctx.lineTo(ax, y1 + 9); ctx.lineTo(ax + 5.5, y1 + 13);
    ctx.closePath(); ctx.fill();
    ctx.restore();
  }
};

function insetDatasets(ins) {
  const curve = ins.square ? SQUARE_CURVE : DECAY_CURVE;
  const n = ins.levels.length;
  return ins.levels.map((L, i) => {
    const pts = [[0, ins.base], [ins.onset, ins.base], [ins.onset, ins.peak]];
    curve.forEach(([dx, f]) => pts.push([ins.onset + dx, L + (ins.peak - L) * f]));
    pts.push([ins.end, L], [ins.end, 0], [ins.end + 0.8, ins.inter], [ins.s2[0], ins.inter],
             [ins.s2[0], ins.s2[1]], [ins.s2[0] + 0.6, ins.post], [100, ins.post]);
    return {
      type: 'line', xAxisID: 'xi', yAxisID: 'yi', showLine: true, pointRadius: 0,
      borderColor: traceColor(i, n), borderWidth: 1.3, tension: 0, fill: false,
      data: pts.map(([x, y]) => ({x, y}))
    };
  });
}

const fig = document.getElementById('fig');
const fmtC = v => (v === 0 ? '0' : v.toFixed(1));

PANELS.forEach(p => {
  const cv = document.createElement('canvas');
  const W = PAD_L + AREA_W + PAD_R, H = PAD_T + AREA_H + PAD_B;
  cv.width = W; cv.height = H;
  cv.style.left = (COL_X[p.col] - PAD_L) + 'px';
  cv.style.top = (ROW_Y[p.row] - PAD_T) + 'px';
  cv.style.width = W + 'px'; cv.style.height = H + 'px';
  fig.appendChild(cv);

  const datasets = [{
    data: p.data.map(([t, c]) => ({x: t, y: c})),
    pointRadius: 4.5, pointBorderWidth: 1.3, pointBackgroundColor: '#fff', pointBorderColor: '#000',
    showLine: false, clip: false
  }];
  if (p.bar) {
    const [tL, tR, cB, cT] = p.bar;
    datasets.push({type: 'line', showLine: true, pointRadius: 0, borderColor: '#000', borderWidth: 5,
      borderJoinStyle: 'miter', borderCapStyle: 'butt', tension: 0, fill: false,
      data: [{x: tL, y: cB}, {x: tR, y: cB}, {x: tR, y: cT}]});
  }
  const scales = {
    x: {
      type: 'linear', position: 'top', min: p.t[0], max: p.t[1],
      afterBuildTicks: a => { a.ticks = p.tTicks.map(v => ({value: v})); },
      afterFit: a => { a.height = PAD_T; },
      grid: {display: true, drawOnChartArea: false, drawTicks: true, tickLength: 5, color: '#111', lineWidth: 1.6},
      border: {display: true, color: '#111', width: 2},
      ticks: {color: '#000', font: {family: FONT, size: 21}, padding: 3, maxRotation: 0, autoSkip: false, callback: v => String(v)},
      title: {display: p.row === 0, text: 'Time (sec)', color: '#000', font: {family: FONT, size: 28}, padding: {top: 2, bottom: 0}}
    },
    y: {
      type: 'linear', position: 'left', min: p.c[0], max: p.c[1],
      afterBuildTicks: a => { a.ticks = p.cTicks.map(v => ({value: v})); },
      afterFit: a => { a.width = PAD_L; },
      grid: {display: true, drawOnChartArea: false, drawTicks: true, tickLength: 5, color: '#111', lineWidth: 1.6},
      border: {display: true, color: '#111', width: 2},
      ticks: {color: '#000', font: {family: FONT, size: 21}, padding: 5, autoSkip: false, callback: v => fmtC(v)}
    }
  };
  if (p.inset) {
    const ins = p.inset;
    const [t0, t1, cTop, cBot] = ins.box;
    datasets.push(...insetDatasets(ins));
    // ejes ocultos del recuadro: 0..100 local sobre la caja del recuadro
    scales.xi = {type: 'linear', display: false,
      min: (p.t[0] - t0) / (t1 - t0) * 100, max: (p.t[1] - t0) / (t1 - t0) * 100};
    scales.yi = {type: 'linear', display: false, reverse: true,
      min: (p.c[1] - cTop) / (cBot - cTop) * 100, max: (p.c[0] - cTop) / (cBot - cTop) * 100};
  }

  new Chart(cv, {
    type: 'scatter',
    data: {datasets},
    options: {
      responsive: false, animation: false, devicePixelRatio: 1,
      layout: {padding: {left: 0, top: 0, right: PAD_R, bottom: PAD_B}},
      plugins: {legend: {display: false}, tooltip: {enabled: false}, annotate: {panel: p}},
      scales
    },
    plugins: [annotate]
  });
});
</script>
</body>
</html>
